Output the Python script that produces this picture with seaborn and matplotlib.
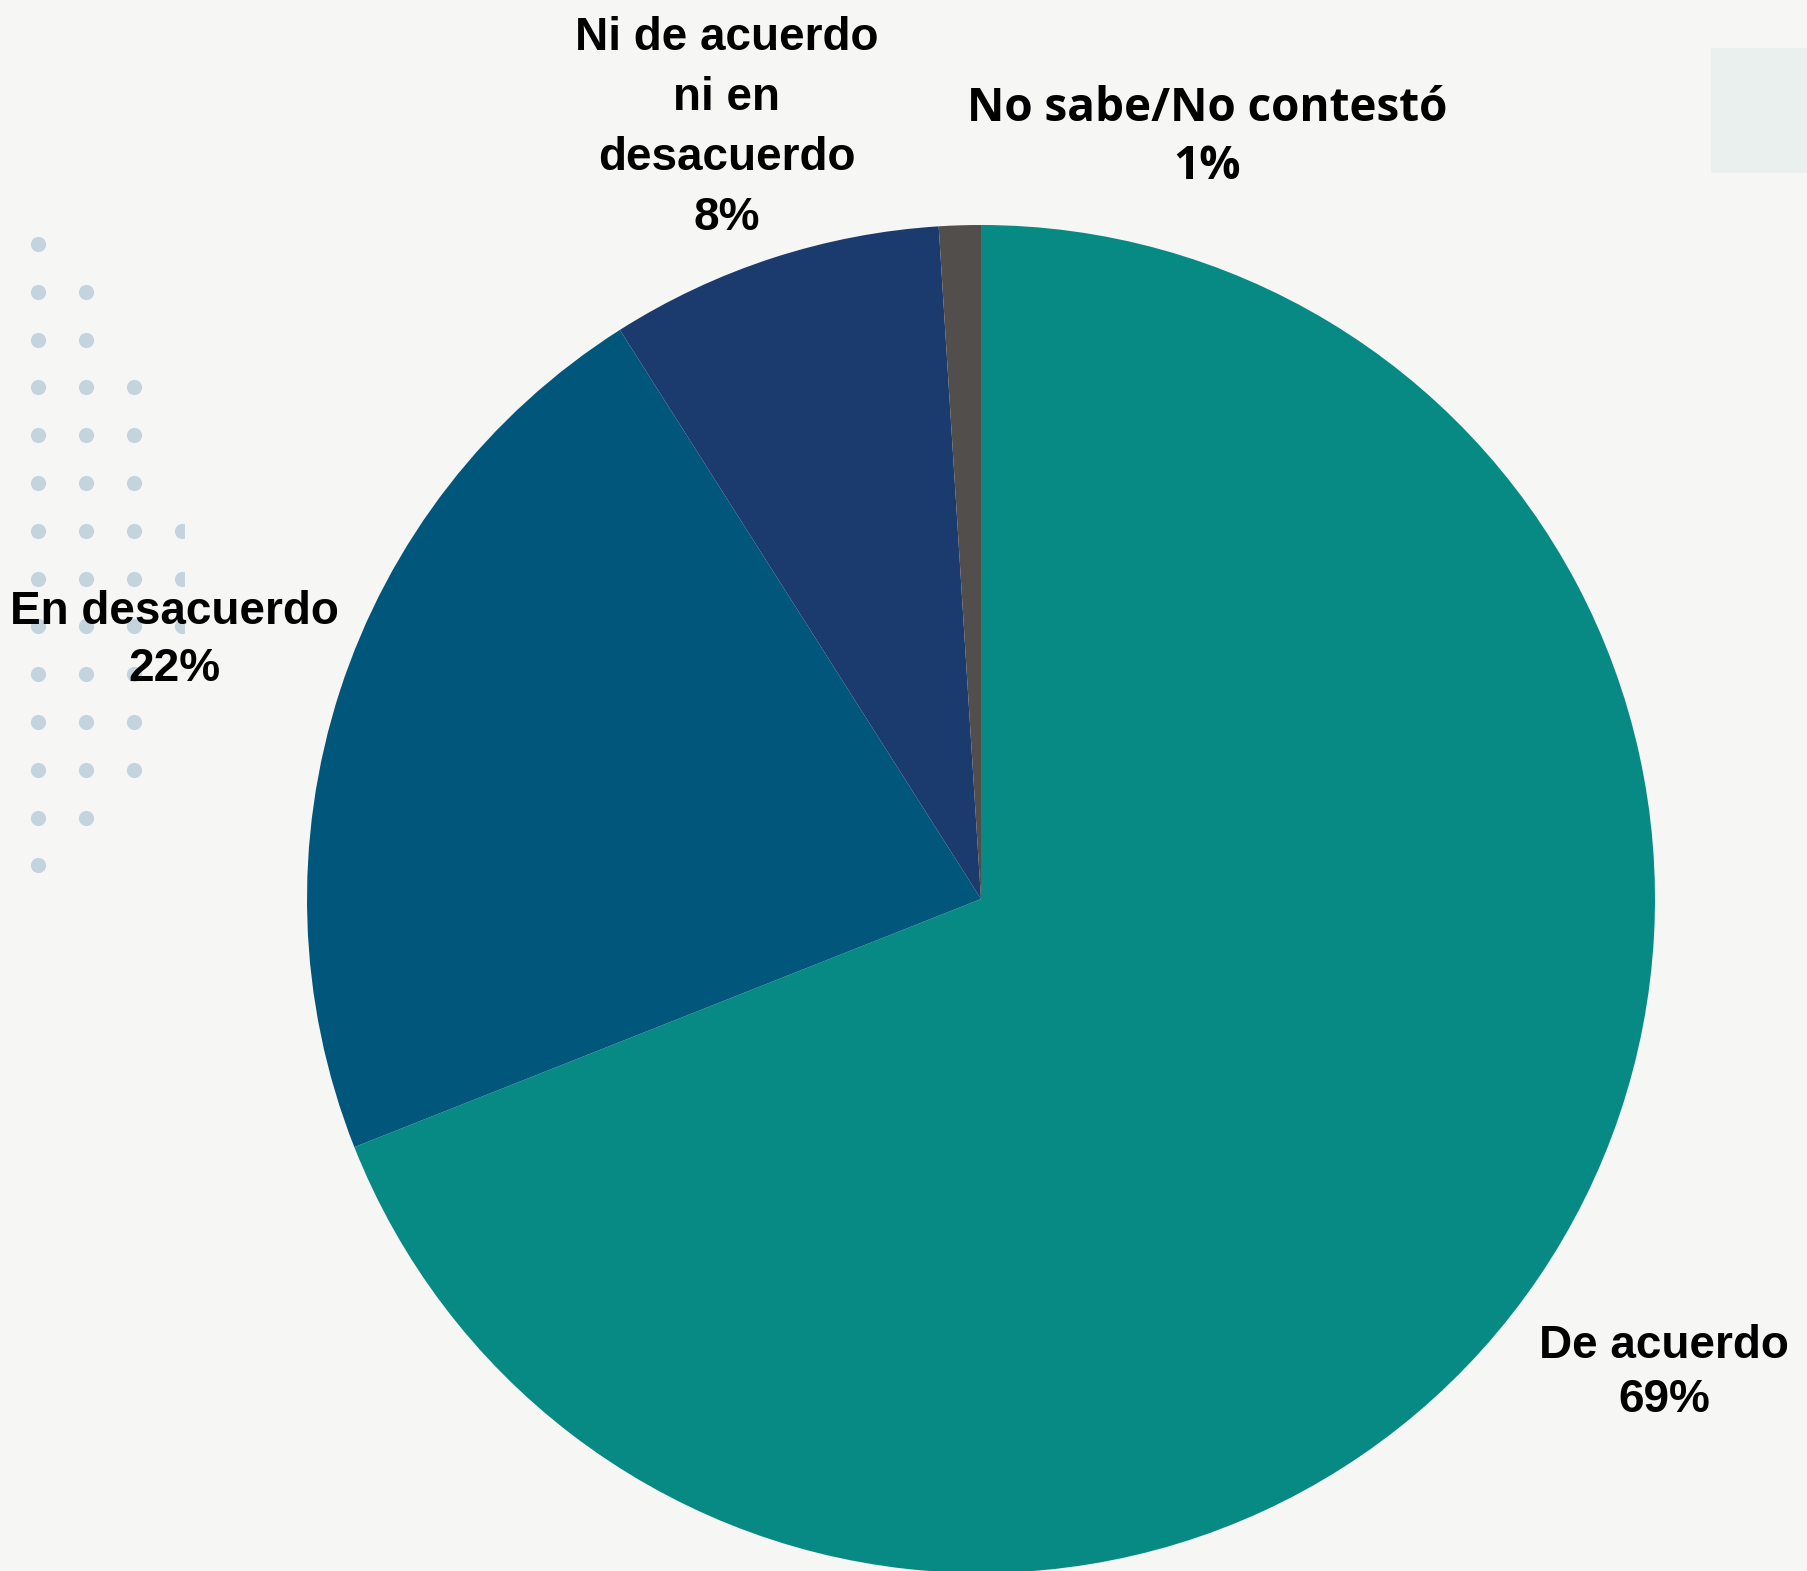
import matplotlib
matplotlib.use("Agg")
import matplotlib.pyplot as plt
import seaborn as sns
from matplotlib.patches import Rectangle

# survey answers, share in percent
categories = ["De acuerdo", "En desacuerdo", "Ni de acuerdo\nni en\ndesacuerdo", "No sabe/No contestó"]
values = [69, 22, 8, 1]
colors = ["#088A84", "#00577B", "#1B3A6E", "#524E4C"]

sns.set_theme(style="white")
plt.rcParams["font.family"] = ["Liberation Sans", "DejaVu Sans"]

W, H = 1807, 1571
fig = plt.figure(figsize=(W / 100, H / 100), dpi=100)
fig.patch.set_facecolor("#F6F6F5")

# background decoration (pixel coords, y down)
bg = fig.add_axes([0, 0, 1, 1])
bg.set_xlim(0, W)
bg.set_ylim(H, 0)
bg.axis("off")
bg.add_patch(Rectangle((1711, 48), 96, 125, color="#EAF0EE", lw=0))
dot_clip = Rectangle((0, 0), 184, H, transform=bg.transData)
dot_rows = [1, 2, 2, 3, 3, 3, 4, 4, 4, 3, 3, 3, 2, 1]
for i, n in enumerate(dot_rows):
    for j in range(n):
        d = bg.scatter(38 + j * 48, 244 + i * 47.8, s=120, color="#C4D4DF", lw=0)
        d.set_clip_path(dot_clip)

# pie
cx, cy, r = 981, 899, 674
ax = fig.add_axes([(cx - r) / W, (H - cy - r) / H, 2 * r / W, 2 * r / H])
ax.pie(values, colors=colors, startangle=90, counterclock=False,
       wedgeprops=dict(linewidth=0))
ax.set_xlim(-1, 1)
ax.set_ylim(-1, 1)
ax.axis("off")

# labels: x center, first baseline, line step (pixels), font, size
label_pos = [(1664, 1358, 54, "Liberation Sans", 33),
             (174, 624, 57, "Liberation Sans", 33),
             (727, 50, 60, "Liberation Sans", 33),
             (1207, 121, 58, "Open Sans", 33)]
for name, v, (x, y, step, fam, fs) in zip(categories, values, label_pos):
    lines = name.split("\n") + [f"{v}%"]
    for k, line in enumerate(lines):
        bg.text(x, y + k * step, line, ha="center", va="baseline",
                fontsize=fs, fontweight="bold",
                family=[fam, "DejaVu Sans"], color="black")

fig.savefig("out.png", dpi=100, facecolor=fig.get_facecolor())
